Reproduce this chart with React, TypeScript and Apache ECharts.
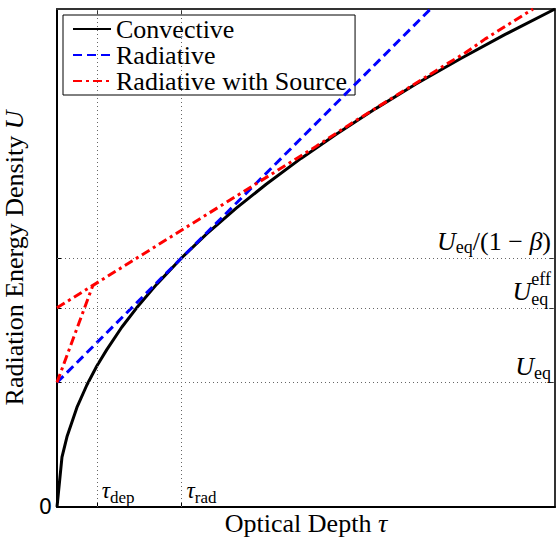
import React, { useEffect, useRef } from 'react';
import * as echarts from 'echarts';

// ---- data ----
const seriesNames = ['Convective', 'Radiative', 'Radiative with Source'];

const convectiveTau = [0, 0.01, 0.02, 0.04, 0.06, 0.08, 0.1, 0.13, 0.16, 0.2, 0.25, 0.3, 0.36, 0.42, 0.49, 0.56, 0.64, 0.72, 0.81, 0.9, 1.0];
const convectiveU = [0, 0.1, 0.141, 0.2, 0.245, 0.283, 0.316, 0.361, 0.4, 0.447, 0.5, 0.548, 0.6, 0.648, 0.7, 0.748, 0.8, 0.849, 0.9, 0.949, 1.0];

const radiativeTau = [0, 0.75];
const radiativeU = [0.25, 1.0];

const sourceTau = [0, 0.52, 0.6, 0.7, 0.78, 0.82, 0.86, 0.9, 0.956];
const sourceU = [0.4, 0.724, 0.776, 0.838, 0.888, 0.912, 0.94, 0.965, 1.0];
const sourceBranchTau = [0, 0.072];
const sourceBranchU = [0.25, 0.445];

const tauTicks = [0.08, 0.25];
const tauTickSubs = ['dep', 'rad'];
const uTicks = [0.25, 0.4, 0.5];
const zeroLabel = [0];

const SERIF = '"Liberation Serif", "Times New Roman", serif';

const zip = (a: number[], b: number[]) => a.map((v, i) => [v, b[i]]);

type Part = { t: string; size: number; italic?: boolean; dy: number; stackNext?: boolean };

let measureCtx: CanvasRenderingContext2D | null = null;
function measure(p: Part) {
  if (!measureCtx) measureCtx = document.createElement('canvas').getContext('2d');
  measureCtx!.font = `${p.italic ? 'italic ' : ''}${p.size}px ${SERIF}`;
  return measureCtx!.measureText(p.t).width;
}

function layout(parts: Part[], ax: number, ay: number, alignRight: boolean) {
  const xs: number[] = [];
  let x = 0;
  let i = 0;
  while (i < parts.length) {
    const p = parts[i];
    if (p.stackNext && i + 1 < parts.length) {
      const w = Math.max(measure(p), measure(parts[i + 1]));
      xs.push(x);
      xs.push(x);
      x += w;
      i += 2;
    } else {
      xs.push(x);
      x += measure(p);
      i += 1;
    }
  }
  const total = x;
  const x0 = alignRight ? ax - total : ax;
  return parts.map((p, k) => ({
    type: 'text',
    silent: true,
    z: 100,
    style: {
      text: p.t,
      x: x0 + xs[k],
      y: ay + p.dy - 0.34 * p.size,
      fontSize: p.size,
      fontFamily: SERIF,
      fontStyle: p.italic ? 'italic' : 'normal',
      fill: '#000',
      align: 'left',
      verticalAlign: 'middle',
    },
  }));
}

export default function App() {
  const ref = useRef<HTMLDivElement>(null);

  useEffect(() => {
    if (!ref.current) return;
    const chart = echarts.init(ref.current, undefined, { renderer: 'svg' });

    const frameAxis = (color: string) => ({
      show: true,
      onZero: false,
      lineStyle: { color, width: 2 },
    });

    const nameStyle = {
      color: '#000',
      fontFamily: SERIF,
      fontSize: 26,
      rich: {
        r: { fontFamily: SERIF, fontSize: 26, color: '#000' },
        i: { fontFamily: SERIF, fontSize: 26, fontStyle: 'italic', color: '#000' },
      },
    };

    const option: any = {
      animation: false,
      backgroundColor: '#fff',
      grid: { left: 57, top: 9, right: 2, bottom: 33, containLabel: false, outerBoundsMode: 'none' },
      legend: {
        data: seriesNames,
        orient: 'vertical',
        left: 63,
        top: 15,
        itemWidth: 38,
        itemHeight: 14,
        itemGap: 0,
        padding: [1, 8, 1, 9],
        borderColor: '#000',
        borderWidth: 1,
        borderRadius: 0,
        backgroundColor: '#fff',
        itemStyle: { opacity: 0 },
        textStyle: { fontFamily: SERIF, fontSize: 26, lineHeight: 20, color: '#000' },
      },
      xAxis: [
        {
          type: 'value',
          position: 'bottom',
          min: 0,
          max: 1,
          axisLine: frameAxis('#000'),
          axisTick: { show: true, inside: true, length: 5, customValues: tauTicks, lineStyle: { color: '#000', width: 1 } },
          axisLabel: { show: false },
          splitLine: { show: false },
          name: '{r|Optical Depth }{i|τ}',
          nameLocation: 'middle',
          nameGap: 3,
          nameTextStyle: { ...nameStyle, verticalAlign: 'top' },
        },
        {
          type: 'value',
          position: 'top',
          min: 0,
          max: 1,
          axisLine: frameAxis('#333'),
          axisTick: { show: true, inside: true, length: 5, customValues: tauTicks, lineStyle: { color: '#333', width: 1 } },
          axisLabel: { show: false },
          splitLine: { show: false },
        },
      ],
      yAxis: [
        {
          type: 'value',
          position: 'left',
          min: 0,
          max: 1,
          axisLine: frameAxis('#000'),
          axisTick: { show: true, inside: true, length: 5, customValues: uTicks, lineStyle: { color: '#000', width: 1 } },
          axisLabel: {
            show: true,
            customValues: zeroLabel,
            margin: 5,
            fontFamily: '"DejaVu Sans", sans-serif',
            fontSize: 21,
            color: '#000',
          },
          splitLine: { show: false },
          name: '{r|Radiation Energy Density }{i|U}',
          nameLocation: 'middle',
          nameGap: 16,
          nameTextStyle: nameStyle,
        },
        {
          type: 'value',
          position: 'right',
          min: 0,
          max: 1,
          axisLine: frameAxis('#333'),
          axisTick: { show: true, inside: true, length: 5, customValues: uTicks, lineStyle: { color: '#333', width: 1 } },
          axisLabel: { show: false },
          splitLine: { show: false },
        },
      ],
      series: [
        {
          type: 'line',
          data: [],
          silent: true,
          z: 1,
          markLine: {
            silent: true,
            symbol: ['none', 'none'],
            label: { show: false },
            lineStyle: { color: '#666', width: 1, type: [1, 3] },
            emphasis: { disabled: true },
            data: [
              ...tauTicks.map((v) => ({ xAxis: v })),
              ...uTicks.map((v) => ({ yAxis: v })),
            ],
          },
        },
        {
          name: seriesNames[0],
          type: 'line',
          data: zip(convectiveTau, convectiveU),
          symbol: 'none',
          z: 3,
          color: '#000',
          lineStyle: { color: '#000', width: 3 },
        },
        {
          name: seriesNames[1],
          type: 'line',
          data: zip(radiativeTau, radiativeU),
          symbol: 'none',
          z: 4,
          color: '#0000ff',
          lineStyle: { color: '#0000ff', width: 3, type: [9, 5] },
        },
        {
          name: seriesNames[2],
          type: 'line',
          data: zip(sourceTau, sourceU),
          symbol: 'none',
          z: 5,
          color: '#ff0000',
          lineStyle: { color: '#ff0000', width: 3, type: [9, 4, 3, 4] },
        },
        {
          name: seriesNames[2],
          type: 'line',
          data: zip(sourceBranchTau, sourceBranchU),
          symbol: 'none',
          z: 5,
          color: '#ff0000',
          lineStyle: { color: '#ff0000', width: 3, type: [9, 4, 3, 4] },
        },
      ],
    };

    chart.setOption(option);

    const px = (v: number) => chart.convertToPixel({ xAxisIndex: 0 }, v) as number;
    const py = (v: number) => chart.convertToPixel({ yAxisIndex: 0 }, v) as number;
    const xRight = px(1);
    const y0 = py(0);

    const graphics: any[] = [];
    tauTicks.forEach((t, k) => {
      graphics.push(
        ...layout(
          [
            { t: 'τ', size: 23, italic: true, dy: -9 },
            { t: tauTickSubs[k], size: 17, dy: -4 },
          ],
          px(t) + 5,
          y0,
          false,
        ),
      );
    });

    const uLabels: Part[][] = [
      [
        { t: 'U', size: 26, italic: true, dy: -7.5 },
        { t: 'eq', size: 18, dy: -3 },
      ],
      [
        { t: 'U', size: 26, italic: true, dy: -7.3 },
        { t: 'eq', size: 18, dy: -2.3, stackNext: true },
        { t: 'eff', size: 18, dy: -22.3 },
      ],
      [
        { t: 'U', size: 26, italic: true, dy: -7.7 },
        { t: 'eq', size: 18, dy: -5 },
        { t: '/(1 − ', size: 26, dy: -7.7 },
        { t: 'β', size: 26, italic: true, dy: -7.7 },
        { t: ')', size: 26, dy: -7.7 },
      ],
    ];
    uTicks.forEach((u, k) => {
      graphics.push(...layout(uLabels[k], xRight - 4, py(u), true));
    });

    chart.setOption({ graphic: graphics });

    return () => chart.dispose();
  }, []);

  return <div ref={ref} style={{ width: 557, height: 540, position: 'absolute', left: 0, top: 0 }} />;
}
